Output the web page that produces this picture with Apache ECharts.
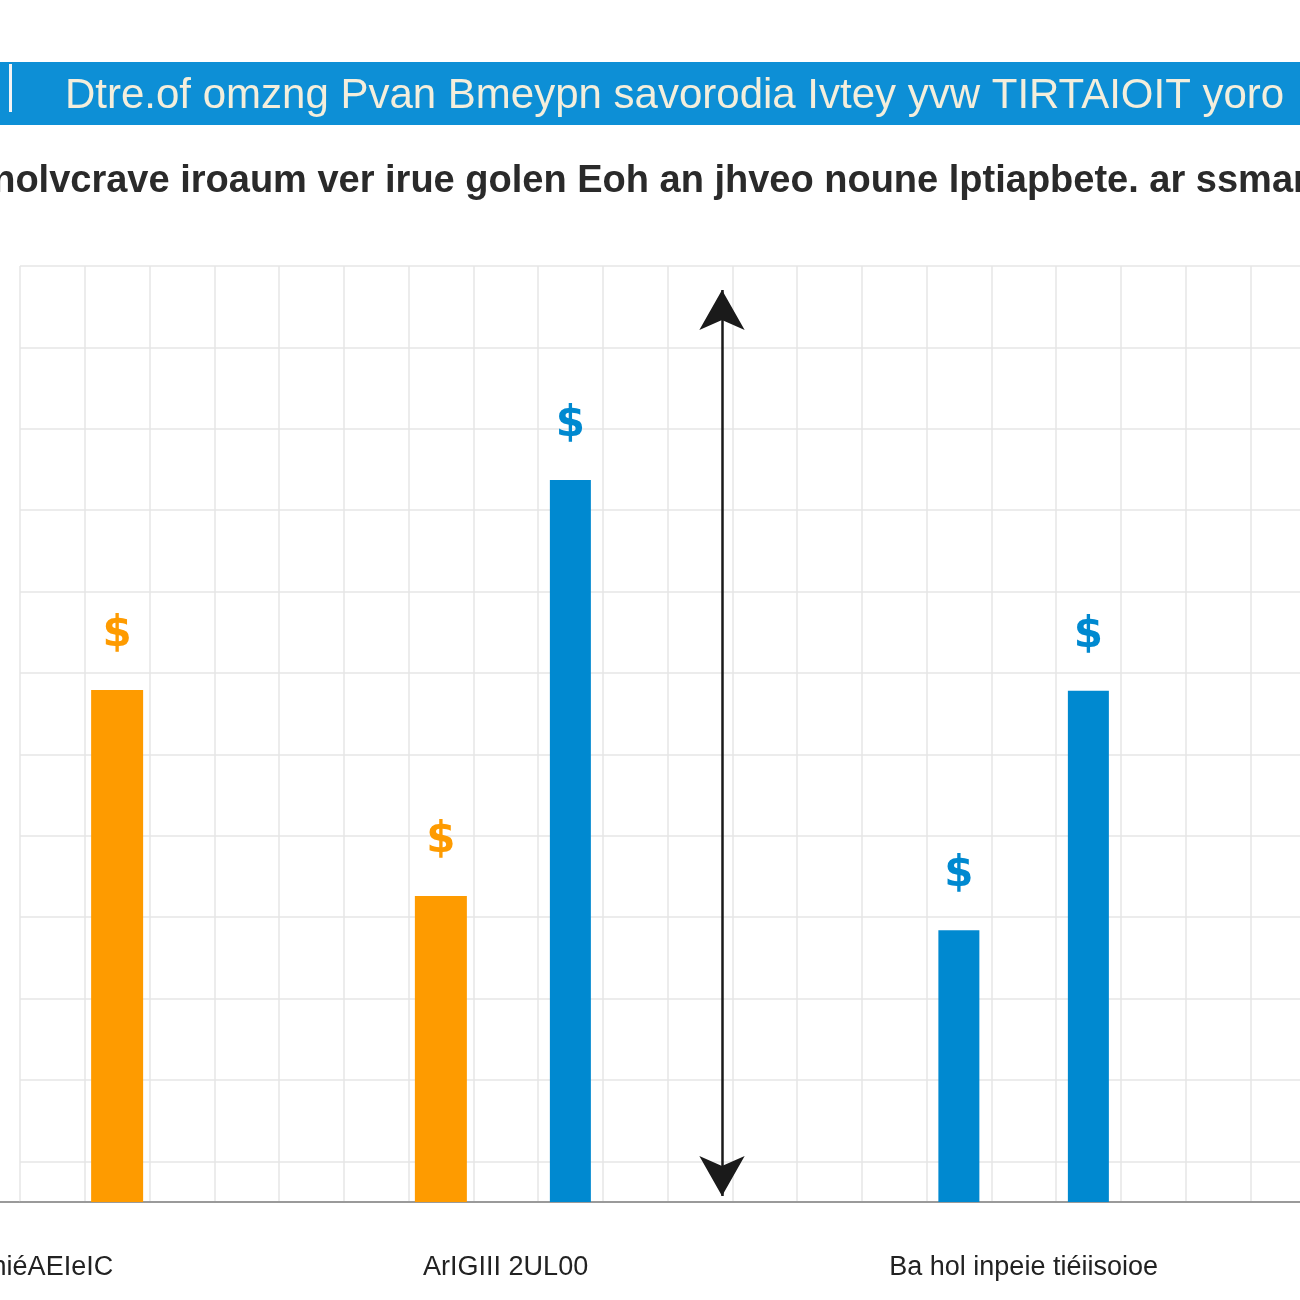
<!DOCTYPE html>
<html><head><meta charset="utf-8">
<script src="https://cdn.jsdelivr.net/npm/echarts@6/dist/echarts.min.js"></script>
<style>html,body{margin:0;padding:0;background:#fff}#c{width:1300px;height:1300px}</style>
</head><body><div id="c"></div>
<script>
const titleText = "Dtre.of omzng Pvan Bmeypn savorodia Ivtey yvw TIRTAIOIT yoro";
const subtitleText = "nolvcrave iroaum ver irue golen Eoh an jhveo noune lptiapbete. ar ssmar";
const categories = ["niéAEIeIC","","","","","","","ArIGIII 2UL00","","","","","","","","Ba hol inpeie tiéiisoioe","","","",""];
const orangeValues = [null,6.29,null,null,null,null,3.76,null,null,null,null,null,null,null,null,null,null,null,null,null];
const blueValues   = [null,null,null,null,null,null,null,null,8.87,null,null,null,null,null,3.34,null,6.28,null,null,null];
const valueLabel = "$";

const chart = echarts.init(document.getElementById('c'), null, {renderer:'canvas'});
const labelStyle = c => ({show:true, position:'top', distance:34, formatter:valueLabel, color:c, fontSize:42, fontWeight:'bold', fontFamily:'DejaVu Sans'});
chart.setOption({
  animation:false,
  backgroundColor:'#ffffff',
  graphic:[
    {type:'rect', shape:{x:0,y:62,width:1300,height:63}, style:{fill:'#0d8fd6'}, z:-1},
    {type:'rect', shape:{x:9,y:64,width:3,height:48}, style:{fill:'#f4f4f4'}, z:0},
    {type:'rect', shape:{x:0,y:1201,width:22,height:2}, style:{fill:'#9a9a9a'}, z:0}
  ],
  title:[
    {text:titleText, left:60, top:70, textStyle:{color:'#f3eedc', fontSize:42, fontWeight:'normal', fontFamily:'Liberation Sans'}},
    {text:subtitleText, left:'center', top:158, textStyle:{color:'#2a2a2a', fontSize:38, fontWeight:'bold', fontFamily:'Liberation Sans'}}
  ],
  grid:{left:20, top:266, right:-15, bottom:98, containLabel:false, outerBoundsMode:'none'},
  xAxis:[
    {type:'category', data:categories, boundaryGap:true,
     axisLine:{show:true, lineStyle:{color:'#9a9a9a', width:2}},
     axisTick:{show:false},
     axisLabel:{interval:0, margin:52, color:'#222', fontSize:27, fontFamily:'Liberation Sans'},
     splitLine:{show:true, interval:0, lineStyle:{color:'#e6e6e6', width:1.5}}},
    {type:'category', data:categories, show:false}
  ],
  yAxis:[
    {type:'value', min:0, max:11.5, show:false},
    {type:'value', min:0, max:11.5, interval:1, inverse:true,
     axisLine:{show:false}, axisTick:{show:false}, axisLabel:{show:false},
     splitLine:{show:true, lineStyle:{color:'#e6e6e6', width:1.5}}}
  ],
  series:[
    {type:'bar', name:'orange', xAxisIndex:0, yAxisIndex:0, data:orangeValues, barWidth:52,
     itemStyle:{color:'#fe9b00'}, label:labelStyle('#fe9b00'),
     markLine:{silent:true, symbol:['arrow','arrow'], symbolSize:[34,40],
       lineStyle:{color:'#1a1a1a', width:2.5, type:'solid'}, label:{show:false},
       data:[[{x:722,y:290},{x:722,y:1196}]]}},
    {type:'bar', name:'blue', xAxisIndex:1, yAxisIndex:0, data:blueValues, barWidth:41,
     itemStyle:{color:'#0089d0'}, label:labelStyle('#0089d0')}
  ]
});
</script></body></html>
